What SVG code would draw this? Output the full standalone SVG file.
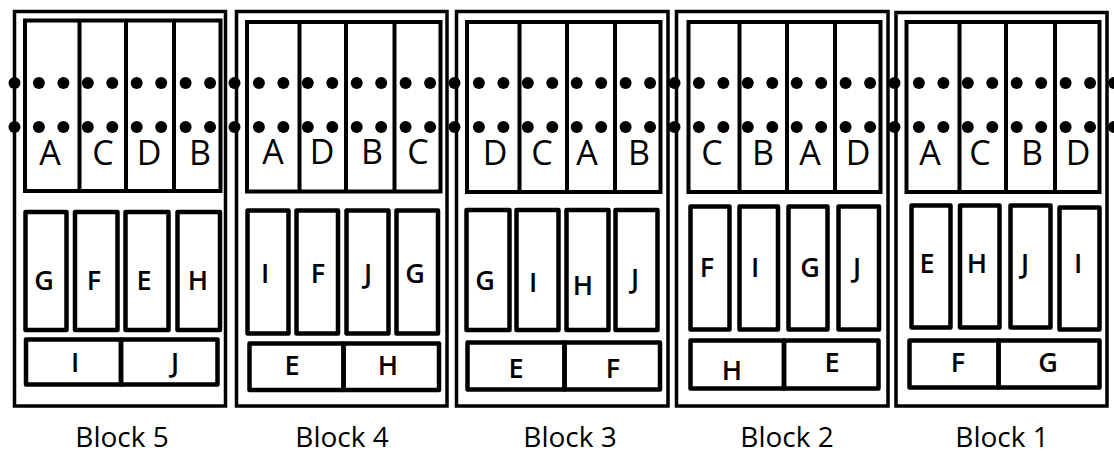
<svg xmlns="http://www.w3.org/2000/svg" xmlns:xlink="http://www.w3.org/1999/xlink" width="1114" height="454" viewBox="0 0 1114 454">
<style>
.frame{fill:none;stroke:#000;stroke-width:3.5}
.panel{fill:none;stroke:#000;stroke-width:4}
.div{stroke:#000;stroke-width:4}
.box{fill:none;stroke:#000;stroke-width:4.5;stroke-linejoin:round}
.lt{font-family:"Open Sans","DejaVu Sans",sans-serif;font-size:34px;font-weight:500;text-anchor:middle;fill:#000}
.lm{font-family:"Open Sans","DejaVu Sans",sans-serif;font-size:27px;font-weight:600;text-anchor:middle;fill:#000}
.lab{font-family:"Open Sans","Liberation Sans",sans-serif;font-size:28px;font-weight:500;text-anchor:middle;fill:#000}
.dot{fill:#000}
</style>
<defs>
<circle id="d" class="dot" cx="0" cy="0" r="6"/>
<g id="row">
<use href="#d" x="14.5"/><use href="#d" x="38.9"/><use href="#d" x="63.4"/><use href="#d" x="87.8"/><use href="#d" x="112.3"/><use href="#d" x="136.7"/><use href="#d" x="161.2"/><use href="#d" x="185.6"/><use href="#d" x="210.1"/>
<use href="#d" x="234.5"/><use href="#d" x="258.9"/><use href="#d" x="283.4"/><use href="#d" x="307.8"/><use href="#d" x="332.3"/><use href="#d" x="356.7"/><use href="#d" x="381.2"/><use href="#d" x="405.6"/><use href="#d" x="430.1"/>
<use href="#d" x="454.5"/><use href="#d" x="478.9"/><use href="#d" x="503.4"/><use href="#d" x="527.8"/><use href="#d" x="552.3"/><use href="#d" x="576.7"/><use href="#d" x="601.2"/><use href="#d" x="625.6"/><use href="#d" x="650.1"/>
<use href="#d" x="674.5"/><use href="#d" x="698.9"/><use href="#d" x="723.4"/><use href="#d" x="747.8"/><use href="#d" x="772.3"/><use href="#d" x="796.7"/><use href="#d" x="821.2"/><use href="#d" x="845.6"/><use href="#d" x="870.1"/>
<use href="#d" x="894.5"/><use href="#d" x="918.9"/><use href="#d" x="943.4"/><use href="#d" x="967.8"/><use href="#d" x="992.3"/><use href="#d" x="1016.7"/><use href="#d" x="1041.2"/><use href="#d" x="1065.6"/><use href="#d" x="1090.1"/><use href="#d" x="1114"/>
</g>
</defs>
<rect width="1114" height="454" fill="#fff"/>

<g id="block5">
<rect class="frame" x="14.5" y="11.5" width="211" height="394.5"/>
<rect class="panel" x="25" y="20.5" width="195.5" height="170.5"/>
<line class="div" x1="79.5" y1="20.5" x2="79.5" y2="191"/>
<line class="div" x1="126" y1="20.5" x2="126" y2="191"/>
<line class="div" x1="174" y1="20.5" x2="174" y2="191"/>
<text class="lt" x="50" y="165">A</text><text class="lt" x="103" y="165">C</text><text class="lt" x="149" y="165">D</text><text class="lt" x="200" y="165">B</text>
<rect class="box" x="25.5" y="212" width="41" height="118"/>
<rect class="box" x="75" y="212" width="42.5" height="118"/>
<rect class="box" x="125.5" y="212" width="43" height="118"/>
<rect class="box" x="177.5" y="212" width="42.5" height="118"/>
<text class="lm" x="44" y="290">G</text><text class="lm" x="94" y="290">F</text><text class="lm" x="144" y="290">E</text><text class="lm" x="198" y="290">H</text>
<rect class="box" x="26" y="339.5" width="95" height="45"/>
<rect class="box" x="121" y="339.5" width="96.5" height="45"/>
<text class="lm" x="75" y="372">I</text><text class="lm" x="175" y="372">J</text>
<text class="lab" x="122" y="447">Block 5</text>
</g>

<g id="block4">
<rect class="frame" x="236.5" y="11.5" width="210.5" height="394.5"/>
<rect class="panel" x="247" y="22" width="193.5" height="169.5"/>
<line class="div" x1="299.5" y1="22" x2="299.5" y2="191.5"/>
<line class="div" x1="346" y1="22" x2="346" y2="191.5"/>
<line class="div" x1="394.5" y1="22" x2="394.5" y2="191.5"/>
<text class="lt" x="273" y="164">A</text><text class="lt" x="322" y="164">D</text><text class="lt" x="372" y="164">B</text><text class="lt" x="418" y="164">C</text>
<rect class="box" x="247.5" y="210.5" width="41" height="123"/>
<rect class="box" x="296.5" y="210.5" width="41.5" height="123"/>
<rect class="box" x="346.5" y="210.5" width="42" height="123"/>
<rect class="box" x="396.5" y="210.5" width="41.5" height="123"/>
<text class="lm" x="265" y="283">I</text><text class="lm" x="318" y="283">F</text><text class="lm" x="368" y="283">J</text><text class="lm" x="415" y="283">G</text>
<rect class="box" x="249.5" y="343.5" width="94" height="46.5"/>
<rect class="box" x="343.5" y="343.5" width="95.5" height="46.5"/>
<text class="lm" x="292" y="375">E</text><text class="lm" x="388" y="375">H</text>
<text class="lab" x="342" y="447">Block 4</text>
</g>

<g id="block3">
<rect class="frame" x="456.5" y="11.5" width="211.5" height="394.5"/>
<rect class="panel" x="467" y="22" width="193.5" height="170"/>
<line class="div" x1="519.5" y1="22" x2="519.5" y2="192"/>
<line class="div" x1="567" y1="22" x2="567" y2="192"/>
<line class="div" x1="615" y1="22" x2="615" y2="192"/>
<text class="lt" x="495" y="165">D</text><text class="lt" x="542" y="165">C</text><text class="lt" x="587" y="165">A</text><text class="lt" x="639" y="165">B</text>
<rect class="box" x="466.5" y="210" width="43" height="120"/>
<rect class="box" x="516.5" y="210" width="42" height="120"/>
<rect class="box" x="566.5" y="210" width="42" height="120"/>
<rect class="box" x="615.5" y="210" width="42" height="120"/>
<text class="lm" x="485" y="290">G</text><text class="lm" x="533" y="292">I</text><text class="lm" x="583" y="295">H</text><text class="lm" x="635" y="288">J</text>
<rect class="box" x="467.5" y="342.5" width="97" height="47"/>
<rect class="box" x="564.5" y="342.5" width="95.5" height="47"/>
<text class="lm" x="516" y="378">E</text><text class="lm" x="613" y="378">F</text>
<text class="lab" x="570" y="447">Block 3</text>
</g>

<g id="block2">
<rect class="frame" x="676.5" y="11.5" width="211.5" height="394.5"/>
<rect class="panel" x="688.5" y="22" width="192" height="170"/>
<line class="div" x1="739.5" y1="22" x2="739.5" y2="192"/>
<line class="div" x1="787" y1="22" x2="787" y2="192"/>
<line class="div" x1="835" y1="22" x2="835" y2="192"/>
<text class="lt" x="712" y="165">C</text><text class="lt" x="763" y="165">B</text><text class="lt" x="810" y="165">A</text><text class="lt" x="858" y="165">D</text>
<rect class="box" x="690.5" y="206.5" width="39" height="123"/>
<rect class="box" x="739.5" y="206.5" width="38.5" height="123"/>
<rect class="box" x="788.5" y="206.5" width="39" height="123"/>
<rect class="box" x="838.5" y="206.5" width="40.5" height="123"/>
<text class="lm" x="707" y="277">F</text><text class="lm" x="755" y="277">I</text><text class="lm" x="810" y="277">G</text><text class="lm" x="857" y="277">J</text>
<rect class="box" x="690.5" y="340.5" width="93.5" height="48"/>
<rect class="box" x="784" y="340.5" width="94.5" height="48"/>
<text class="lm" x="732" y="380">H</text><text class="lm" x="832" y="372">E</text>
<text class="lab" x="787" y="447">Block 2</text>
</g>

<g id="block1">
<rect class="frame" x="896" y="12.5" width="211" height="393.5"/>
<rect class="panel" x="906.5" y="22" width="193" height="170"/>
<line class="div" x1="959.5" y1="22" x2="959.5" y2="192"/>
<line class="div" x1="1006" y1="22" x2="1006" y2="192"/>
<line class="div" x1="1055" y1="22" x2="1055" y2="192"/>
<text class="lt" x="930" y="165">A</text><text class="lt" x="980" y="165">C</text><text class="lt" x="1032" y="165">B</text><text class="lt" x="1078" y="165">D</text>
<rect class="box" x="911.5" y="205.5" width="39" height="122"/>
<rect class="box" x="960" y="205.5" width="39.5" height="122"/>
<rect class="box" x="1010.5" y="205.5" width="40" height="122"/>
<rect class="box" x="1059.5" y="207.5" width="40" height="122"/>
<text class="lm" x="927" y="273">E</text><text class="lm" x="977" y="273">H</text><text class="lm" x="1025" y="273">J</text><text class="lm" x="1078" y="273">I</text>
<rect class="box" x="909.5" y="340.5" width="89" height="47"/>
<rect class="box" x="998.5" y="340.5" width="101" height="47"/>
<text class="lm" x="958" y="372">F</text><text class="lm" x="1048" y="372">G</text>
<text class="lab" x="1002" y="447">Block 1</text>
</g>

<g id="dots">
<use href="#row" y="83"/>
<use href="#row" y="127"/>
</g>
</svg>
